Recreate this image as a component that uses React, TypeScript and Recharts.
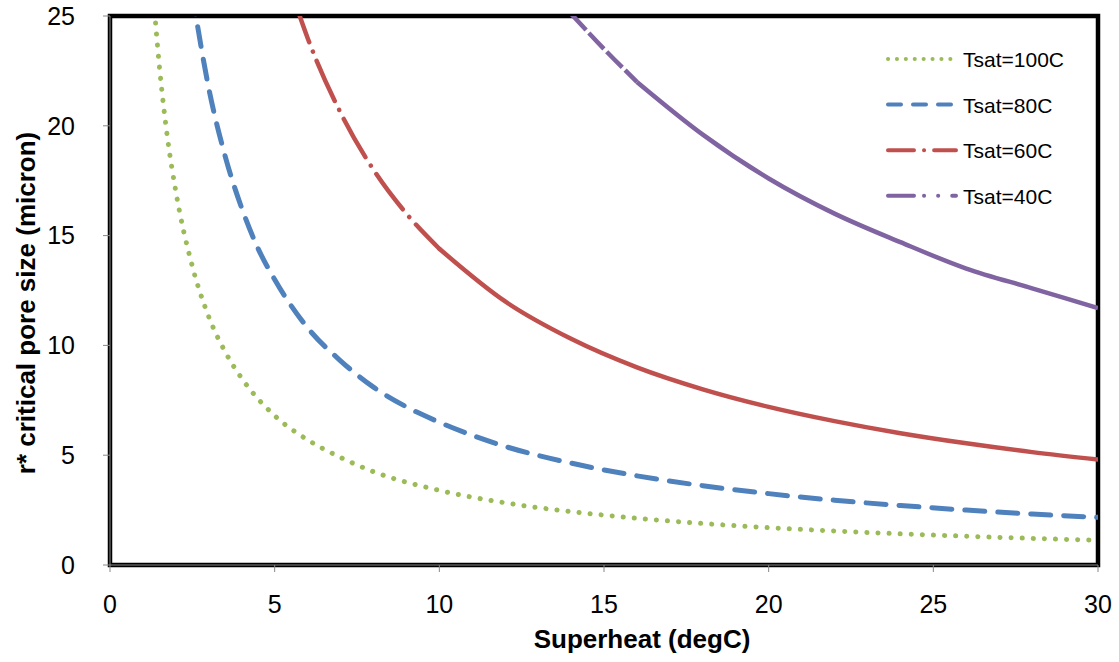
import React from 'react';
import { LineChart, Line, XAxis, YAxis, ReferenceArea } from 'recharts';

// Superheat (degC) sample positions and read r* values (micron)
const x100 = [1.3, 1.5, 1.75, 2, 2.5, 3, 3.5, 4, 5, 6, 7, 8, 10, 12, 14, 16, 18, 20, 22, 24, 26, 28, 30];
const y100 = [26.2, 22.7, 19.4, 17.0, 13.6, 11.3, 9.7, 8.5, 6.8, 5.7, 4.9, 4.25, 3.4, 2.83, 2.43, 2.13, 1.89, 1.7, 1.55, 1.42, 1.31, 1.21, 1.13];

const x80 = [2.5, 3, 3.5, 4, 4.5, 5, 6, 7, 8, 9, 10, 12, 14, 16, 18, 20, 22, 24, 26, 28, 30];
const y80 = [26.0, 21.7, 18.6, 16.25, 14.4, 13.0, 10.8, 9.3, 8.1, 7.2, 6.5, 5.4, 4.64, 4.06, 3.61, 3.25, 2.95, 2.71, 2.5, 2.32, 2.17];

const x60 = [5.6, 6, 7, 8, 9, 10, 12, 14, 16, 18, 20, 22, 24, 26, 28, 30];
const y60 = [25.7, 24.0, 20.6, 18.0, 16.0, 14.4, 12.0, 10.3, 9.0, 8.0, 7.2, 6.55, 6.0, 5.54, 5.14, 4.8];

const x40 = [14, 15, 16, 18, 20, 22, 24, 26, 28, 30];
const y40 = [25.1, 23.5, 22.0, 19.6, 17.6, 16.0, 14.7, 13.5, 12.6, 11.7];

const xTicks = [0, 5, 10, 15, 20, 25, 30];
const yTicks = [0, 5, 10, 15, 20, 25];

const seriesNames = ['Tsat=100C', 'Tsat=80C', 'Tsat=60C', 'Tsat=40C'];
const seriesColors = ['#9BBB59', '#4F81BD', '#C0504D', '#8064A2'];
const legendDash = ['0.1 8.8', '13 12', '26 10 0.1 10', '26 10 0.1 14 0.1 14'];

const zip = (xs: number[], ys: number[]) => xs.map((x, i) => ({ x, y: ys[i] }));

const d100 = zip(x100, y100);
const d80 = zip(x80, y80);
const d60a = zip(x60.slice(0, 6), y60.slice(0, 6));
const d60b = zip(x60.slice(5), y60.slice(5));
const d40a = zip(x40.slice(0, 3), y40.slice(0, 3));
const d40b = zip(x40.slice(2), y40.slice(2));

const font = 'Arial, "Liberation Sans", sans-serif';

const XTitle = () => (
  <text x={642} y={648} textAnchor="middle" fontSize={26} fontWeight="bold" fontFamily={font} fill="#000">
    Superheat (degC)
  </text>
);

const YTitle = () => (
  <text x={35} y={303} transform="rotate(-90 35 303)" textAnchor="middle" fontSize={26} fontWeight="bold" fontFamily={font} fill="#000">
    r* critical pore size (micron)
  </text>
);

const LegendBox = () => (
  <svg width={220} height={180} style={{ position: 'absolute', left: 880, top: 40 }}>
    {seriesNames.map((n, i) => {
      const y = 19 + i * 45.6;
      return (
        <g key={n}>
          <line x1={8} x2={76} y1={y} y2={y} stroke={seriesColors[i]} strokeWidth={4}
            strokeDasharray={legendDash[i]} strokeLinecap="round" />
          <text x={83} y={y + 8} fontSize={21} fontFamily={font} fill="#000">{n}</text>
        </g>
      );
    })}
  </svg>
);

export default function App() {
  return (
    <div style={{ position: 'absolute', left: 0, top: 0, width: 1119, height: 662, background: '#fff' }}>
      <LineChart width={1119} height={662} margin={{ top: 16, right: 21, bottom: 47, left: 10 }}>
        <XAxis
          type="number"
          dataKey="x"
          domain={[0, 30]}
          ticks={xTicks}
          allowDataOverflow
          height={50}
          stroke="#888"
          tickSize={7}
          tickLine={{ stroke: '#888' }}
          tick={{ fontSize: 25, fontFamily: font, fill: '#000', dy: 21 }}
          label={{ content: <XTitle /> }}
        />
        <YAxis
          type="number"
          dataKey="y"
          domain={[0, 25]}
          ticks={yTicks}
          allowDataOverflow
          width={100}
          stroke="#888"
          tickSize={7}
          tickLine={{ stroke: '#888' }}
          tick={{ fontSize: 25, fontFamily: font, fill: '#000', dx: -26 }}
          label={{ content: <YTitle /> }}
        />
        <ReferenceArea x1={0} x2={30} y1={0} y2={25} fill="none" stroke="#000" strokeWidth={4.5} ifOverflow="visible" />
        <Line data={d100} dataKey="y" type="monotone" stroke={seriesColors[0]} strokeWidth={5} strokeDasharray="0.1 11" strokeLinecap="round" dot={false} isAnimationActive={false} />
        <Line data={d80} dataKey="y" type="monotone" stroke={seriesColors[1]} strokeWidth={5} strokeDasharray="20 13" strokeLinecap="round" dot={false} isAnimationActive={false} />
        <Line data={d60a} dataKey="y" type="monotone" stroke={seriesColors[2]} strokeWidth={4.5} strokeDasharray="44 10 0.1 10" strokeLinecap="round" dot={false} isAnimationActive={false} />
        <Line data={d60b} dataKey="y" type="monotone" stroke={seriesColors[2]} strokeWidth={4.5} strokeLinecap="round" dot={false} isAnimationActive={false} />
        <Line data={d40a} dataKey="y" type="monotone" stroke={seriesColors[3]} strokeWidth={4.5} strokeDasharray="22 4" dot={false} isAnimationActive={false} />
        <Line data={d40b} dataKey="y" type="monotone" stroke={seriesColors[3]} strokeWidth={4.5} dot={false} isAnimationActive={false} />
      </LineChart>
      <LegendBox />
    </div>
  );
}
